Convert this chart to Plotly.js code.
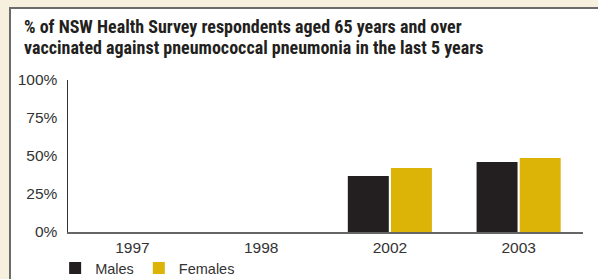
<!DOCTYPE html>
<html><head><meta charset="utf-8">
<script src="https://cdn.plot.ly/plotly-3.0.1.min.js"></script>
<style>
html,body{margin:0;padding:0;background:#f8f0df;width:598px;height:279px;overflow:hidden;}
#panel{position:absolute;left:9px;top:7px;width:589px;height:272px;background:#fff;border-left:2px solid #6b6b6b;border-top:2px solid #6b6b6b;box-sizing:border-box;}
#chart{position:absolute;left:0;top:0;width:598px;height:279px;}
</style></head>
<body>
<div id="panel"></div>
<div id="chart"></div>
<script>
const years = ['1997', '1998', '2002', '2003'];
const males = [null, null, 36.8, 46.0];
const females = [null, null, 42.1, 48.7];
const yTicks = [0, 25, 50, 75, 100];
const yTickLabels = ['0%', '25%', '50%', '75%', '100%'];
const titleLines = [
  '% of NSW Health Survey respondents aged 65 years and over',
  'vaccinated against pneumococcal pneumonia in the last 5 years'
];

const narrow = '"Liberation Sans Narrow", "Roboto Condensed", "Arial Narrow", "Liberation Sans", sans-serif';
const regular = '"Liberation Sans", Arial, sans-serif';

const data = [
  {type: 'bar', name: 'Males', x: years, y: males, marker: {color: '#231f20'}},
  {type: 'bar', name: 'Females', x: years, y: females, marker: {color: '#dcb307'}}
];

const plotTop = 80, plotH = 152, plotL = 68, plotW = 515;
const titleAnn = titleLines.map((t, i) => ({
  text: t, showarrow: false,
  xref: 'paper', yref: 'paper',
  x: (22 - plotL) / plotW, xanchor: 'left',
  y: 1 + (plotTop - (26 + 21 * i)) / plotH, yanchor: 'middle',
  align: 'left',
  font: {family: narrow, size: 18, color: '#231f20', weight: 'bold'}
}));

const layout = {
  width: 598, height: 279,
  margin: {l: 68, r: 15, t: 80, b: 47, pad: 0, autoexpand: false},
  paper_bgcolor: 'rgba(0,0,0,0)',
  plot_bgcolor: 'rgba(0,0,0,0)',
  font: {family: regular, color: '#333', size: 15},
  annotations: titleAnn,
  barmode: 'group',
  bargap: 0.33,
  bargroupgap: 0.05,
  xaxis: {
    type: 'category',
    showline: true, linecolor: '#666', linewidth: 2,
    ticks: '', tickfont: {family: regular, size: 15.5, color: '#333'},
    showgrid: false, zeroline: false, automargin: false
  },
  yaxis: {
    range: [0, 100], tickvals: yTicks, ticktext: yTickLabels,
    showline: true, linecolor: '#333', linewidth: 1.5,
    ticks: '', tickfont: {family: regular, size: 15.5, color: '#333'},
    showgrid: false, zeroline: false, ticklabelstandoff: 6, automargin: false
  },
  legend: {
    orientation: 'h', x: -0.025, xanchor: 'left',
    yref: 'container', y: 1 - 252 / 279, yanchor: 'top',
    font: {family: regular, size: 14.5, color: '#333'}, bgcolor: 'rgba(0,0,0,0)',
    traceorder: 'normal'
  },
  showlegend: true
};

Plotly.newPlot('chart', data, layout, {displayModeBar: false, staticPlot: true});
</script>
</body></html>
